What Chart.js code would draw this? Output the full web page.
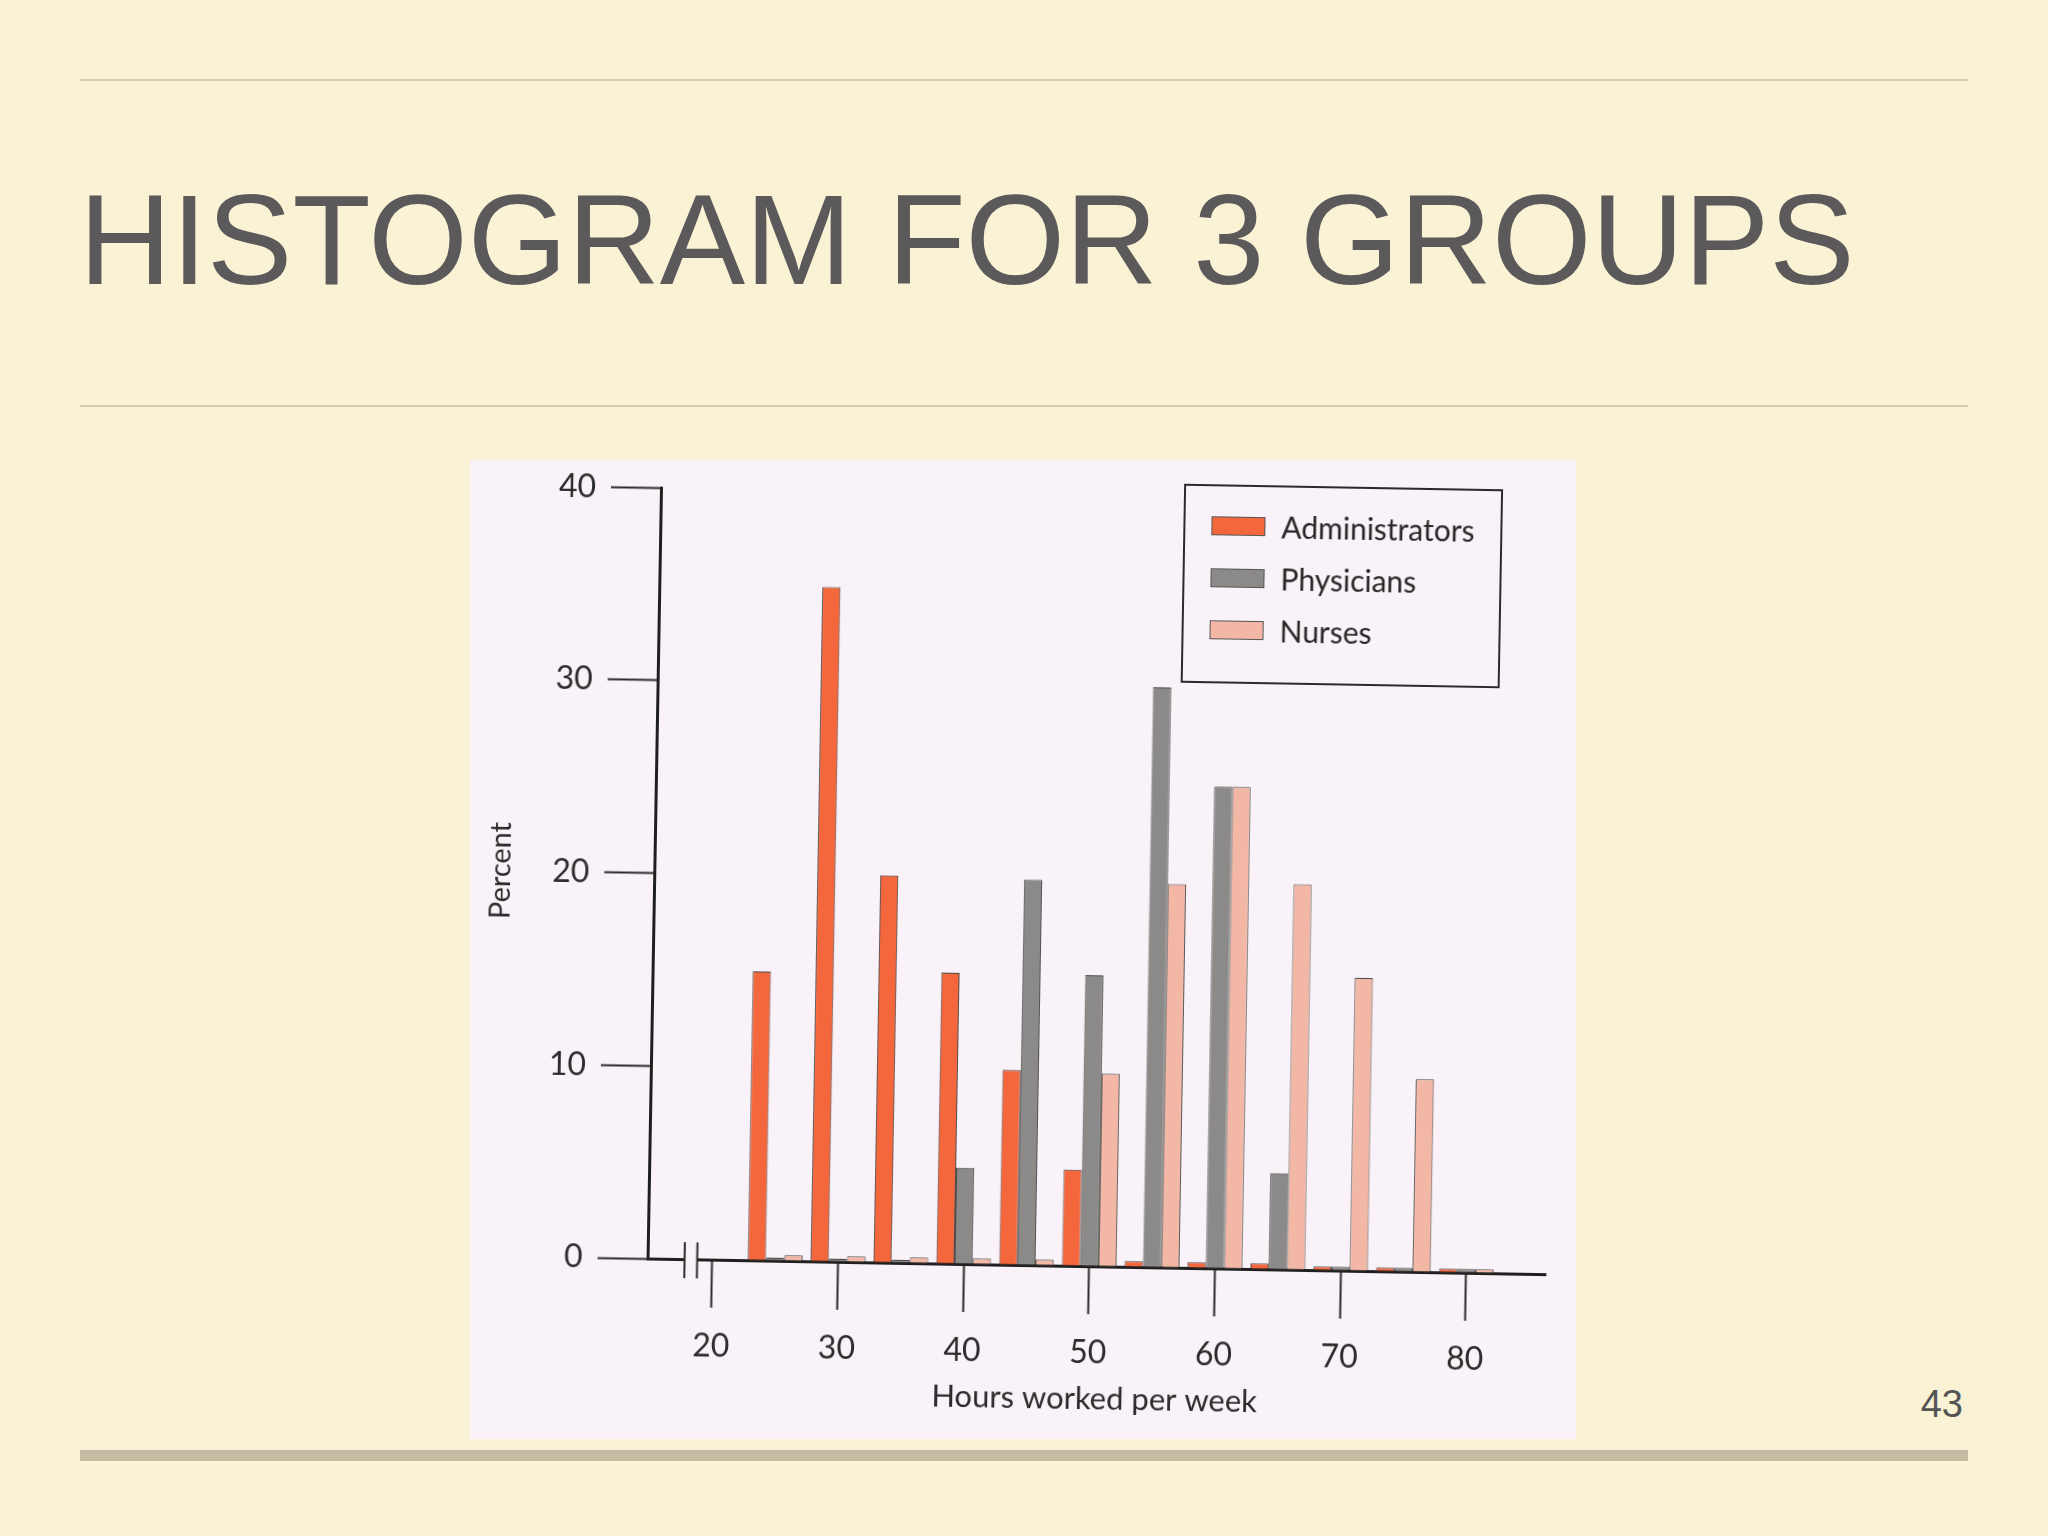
<!DOCTYPE html>
<html>
<head>
<meta charset="utf-8">
<script src="https://cdn.jsdelivr.net/npm/chart.js@4.4.0/dist/chart.umd.min.js"></script>
<style>
  html, body { margin: 0; padding: 0; }
  body {
    width: 2048px; height: 1536px; position: relative; overflow: hidden;
    background: #faf2d5; font-family: 'Liberation Sans', Arial, sans-serif;
  }
  .rule { position: absolute; left: 80px; width: 1888px; height: 2px; background: #d3cbad; }
  #title {
    position: absolute; left: 79px; top: 176px; font-size: 128px; line-height: 1;
    color: #5b5959; white-space: nowrap;
  }
  #panel { position: absolute; left: 470px; top: 460px; width: 1106px; height: 979px; background: #f9f2f8; }
  /* the scanned figure is a little tilted */
  #scan {
    position: absolute; left: 470px; top: 460px; width: 1106px; height: 979px;
    transform: rotate(1deg); transform-origin: 50% 50%;
  }
  #scan canvas { position: absolute; left: 0; top: 0; }
  #legend {
    position: absolute; left: 706px; top: 21px; width: 315px; height: 182px;
    border: 2px solid #2b2b2b; padding-top: 13px; box-sizing: content-box;
    font-family: Lato, sans-serif; font-size: 30px; color: #262626;
  }
  #legend .item { height: 52px; display: flex; align-items: center; padding-left: 26px; }
  #legend .sw { width: 54px; height: 19px; border: 1px solid #555; box-sizing: border-box; margin-right: 16px; }
  #bottomBar { position: absolute; left: 80px; top: 1450px; width: 1888px; height: 11px; background: #c4bca3; }
  #pageNum { position: absolute; right: 85px; top: 1385px; font-size: 38px; line-height: 1; color: #555; }
</style>
</head>
<body>
<div class="rule" style="top:79px"></div>
<div id="title">HISTOGRAM FOR 3 GROUPS</div>
<div class="rule" style="top:405px"></div>
<div id="panel"></div>
<div id="scan">
  <canvas id="myChart" width="1106" height="979"></canvas>
  <div id="legend"></div>
</div>
<div id="bottomBar"></div>
<div id="pageNum">43</div>

<script>
// hours per week (bin centres) and percent of each group
const hours = [25, 30, 35, 40, 45, 50, 55, 60, 65, 70, 75, 80];
const administrators = [15, 35, 20.1, 15.1, 10.1, 5, 0.3, 0.3, 0.3, 0.2, 0.2, 0.2];
const physicians = [0.15, 0.15, 0.15, 5, 20, 15.1, 30.1, 25, 5, 0.2, 0.2, 0.2];
const nurses = [0.3, 0.3, 0.3, 0.3, 0.3, 10, 19.9, 25, 20, 15.2, 10, 0.2];

const xTicks = [20, 30, 40, 50, 60, 70, 80];
const yTicks = [0, 10, 20, 30, 40];

const ink = '#2b2b2b';
const font = 'Lato';

function points(values) {
    return hours.map((h, i) => ({ x: h, y: values[i] }));
}

function barSet(label, values, color) {
    return {
        label: label,
        data: points(values),
        backgroundColor: color,
        borderColor: '#4a4a4a',
        borderWidth: 1,
        categoryPercentage: 0.87,
        barPercentage: 1
    };
}

// little break on the hours axis between the origin and 20
const axisBreak = {
    id: 'axisBreak',
    afterDraw(chart) {
        const ctx = chart.ctx;
        const x = chart.scales.x;
        const y = chart.chartArea.bottom;
        const a = x.getPixelForValue(17.8);
        const b = x.getPixelForValue(18.8);
        ctx.save();
        ctx.clearRect(a + 1, y - 4, b - a - 2, 8);
        ctx.strokeStyle = ink;
        ctx.lineWidth = 2;
        ctx.beginPath();
        ctx.moveTo(a, y - 17); ctx.lineTo(a, y + 19);
        ctx.moveTo(b, y - 17); ctx.lineTo(b, y + 19);
        ctx.stroke();
        ctx.restore();
    }
};

let myChart = document.getElementById('myChart').getContext('2d');

let histChart = new Chart(myChart, {
    type: 'bar',
    data: {
        datasets: [
            barSet('Administrators', administrators, '#f4663c'),
            barSet('Physicians', physicians, '#8b8a88'),
            barSet('Nurses', nurses, '#f3b8a5')
        ]
    },
    options: {
        responsive: false,
        animation: false,
        layout: { padding: { top: 32, right: 25, bottom: 22, left: 0 } },
        plugins: {
            legend: { display: false },
            tooltip: { enabled: false }
        },
        scales: {
            x: {
                type: 'linear',
                min: 14.85,
                max: 86.3,
                offset: false,
                afterBuildTicks: s => { s.ticks = xTicks.map(v => ({ value: v })); },
                afterFit: s => { s.height = 152; },
                ticks: {
                    includeBounds: false, autoSkip: false, maxRotation: 0,
                    padding: 19, color: ink, font: { family: font, size: 32 }
                },
                grid: {
                    offset: false, drawOnChartArea: false, drawTicks: true,
                    tickLength: 48, tickWidth: 2, tickColor: ink
                },
                border: { display: true, color: '#1f1f1f', width: 3 },
                title: {
                    display: true, text: 'Hours worked per week', color: ink,
                    font: { family: font, size: 31 }, padding: { top: 4, bottom: 0 }
                }
            },
            y: {
                min: 0,
                max: 40,
                afterBuildTicks: s => { s.ticks = yTicks.map(v => ({ value: v })); },
                afterFit: s => { s.width = 183; },
                ticks: { padding: 15, color: ink, font: { family: font, size: 32 } },
                grid: {
                    drawOnChartArea: false, drawTicks: true,
                    tickLength: 50, tickWidth: 2, tickColor: ink
                },
                border: { display: true, color: '#1f1f1f', width: 3 },
                title: {
                    display: true, text: 'Percent', color: ink,
                    font: { family: font, size: 29 }, padding: { top: 12, bottom: 0 }
                }
            }
        }
    },
    plugins: [axisBreak]
});

// boxed legend like the printed figure, built from the datasets
const legendBox = document.getElementById('legend');
histChart.data.datasets.forEach(ds => {
    const row = document.createElement('div');
    row.className = 'item';
    const sw = document.createElement('span');
    sw.className = 'sw';
    sw.style.background = ds.backgroundColor;
    const txt = document.createElement('span');
    txt.textContent = ds.label;
    row.appendChild(sw);
    row.appendChild(txt);
    legendBox.appendChild(row);
});
</script>
</body>
</html>
